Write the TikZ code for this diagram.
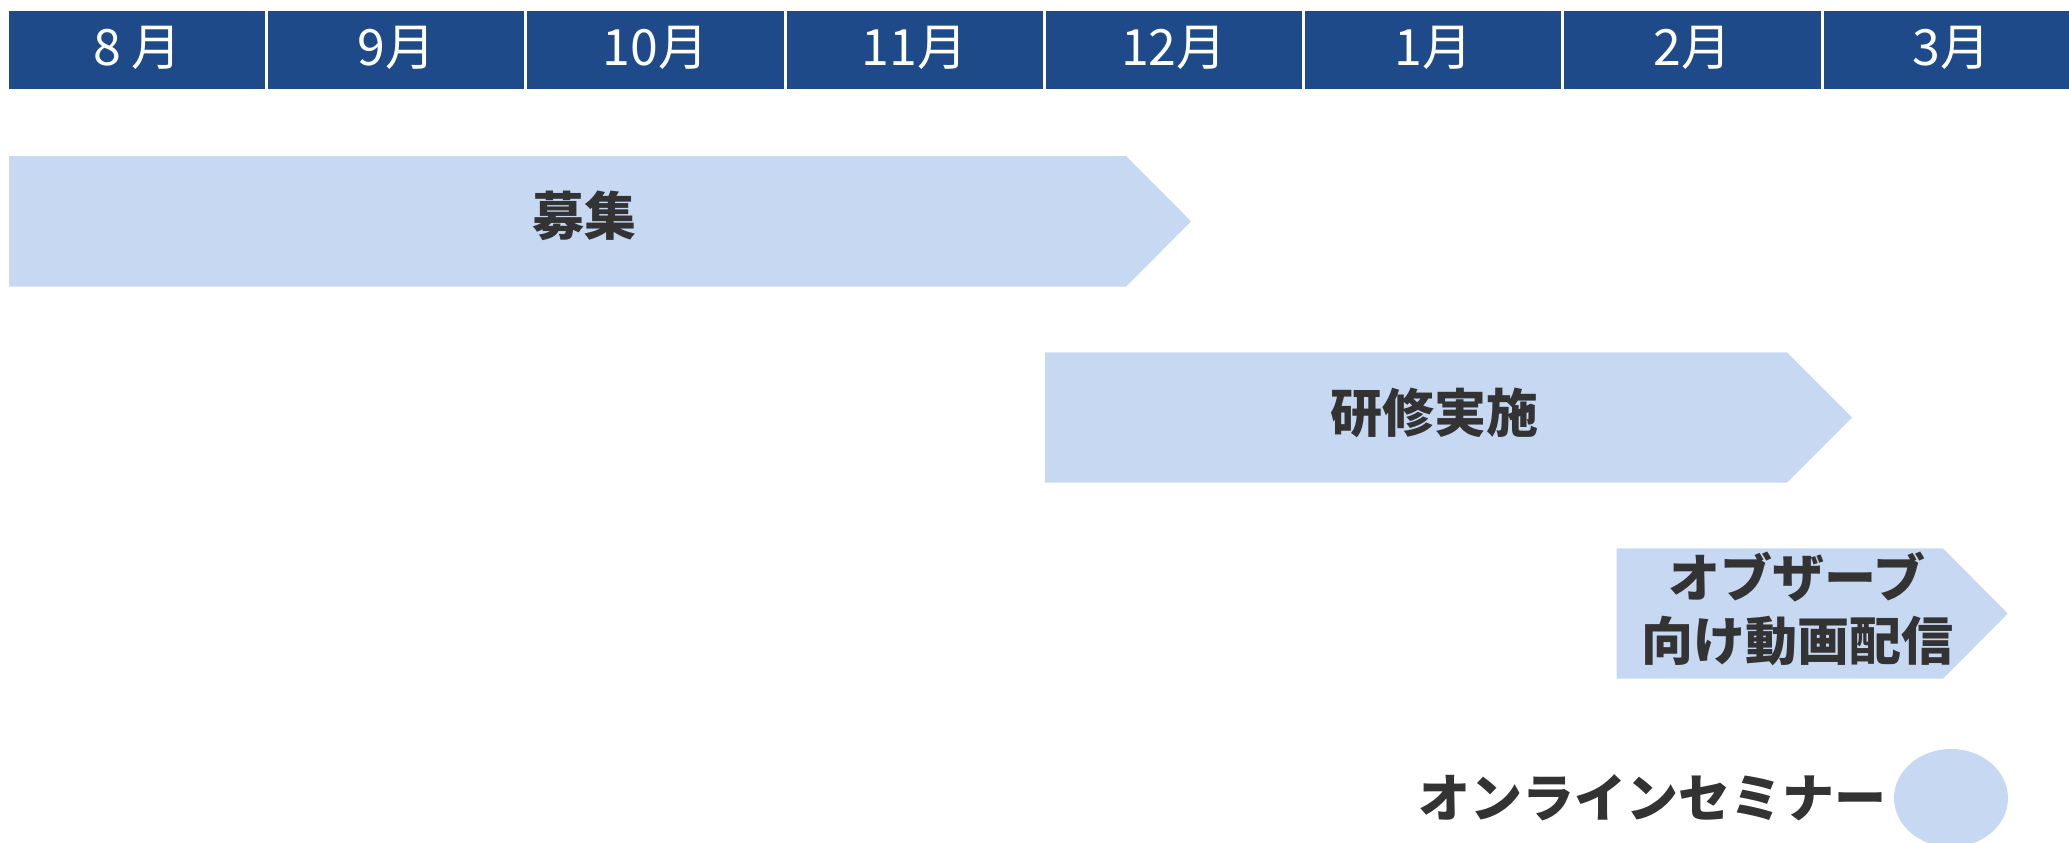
\documentclass[tikz,border=0pt]{standalone}
\usepackage{fontspec}
\setmainfont{Noto Sans CJK JP}
\usetikzlibrary{calc}
\definecolor{MonthBlue}{HTML}{1F4A89}
\definecolor{BarBlue}{HTML}{C7D9F2}
\definecolor{LabelGray}{HTML}{333333}
\tikzset{
    month/.style = {anchor=center, inner sep=0pt, text=white,
        font=\fontsize{50}{50}\selectfont},
    sep/.style = {draw=white, line width=3pt},
    barlabel/.style = {anchor=center, inner sep=0pt, text=LabelGray, align=center,
        font=\fontsize{52}{63}\selectfont\bfseries}
}
\begin{document}
\begin{tikzpicture}[x=1pt,y=-1pt]
            \clip (0,0) rectangle (2069,843);
            \fill[white] (0,0) rectangle (2069,843);
            % month header
            \fill[color=MonthBlue] (9,11) rectangle (2090,89.3);
                \draw[sep] (266.5,11) -- (266.5,89.3);
                \draw[sep] (525.8,11) -- (525.8,89.3);
                \draw[sep] (785.0,11) -- (785.0,89.3);
                \draw[sep] (1044.3,11) -- (1044.3,89.3);
                \draw[sep] (1303.5,11) -- (1303.5,89.3);
                \draw[sep] (1562.8,11) -- (1562.8,89.3);
                \draw[sep] (1822.0,11) -- (1822.0,89.3);
                \node [month] (aug) at (137.5,48) {8 月};
                \node [month] (sep) at (396.2,48) {9月};
                \node [month] (oct) at (655.4,48) {10月};
                \node [month] (nov) at (914.7,48) {11月};
                \node [month] (dec) at (1173.9,48) {12月};
                \node [month] (jan) at (1433.2,48) {1月};
                \node [month] (feb) at (1692.4,48) {2月};
                \node [month] (mar) at (1951.7,48) {3月};
            % schedule bars
            \fill[color=BarBlue] (9,156) -- (1126,156) -- (1191,221.3) -- (1126,286.7) -- (9,286.7) -- cycle;
            \fill[color=BarBlue] (1045,352.3) -- (1787,352.3) -- (1852,417.5) -- (1787,482.7) -- (1045,482.7) -- cycle;
            \fill[color=BarBlue] (1616.7,548.3) -- (1943,548.3) -- (2007.7,613.5) -- (1943,678.7) -- (1616.7,678.7) -- cycle;
            \fill[color=BarBlue] (1951,798) ellipse [x radius=57, y radius=49];
                \node [barlabel] (recruit) at (584.5,216) {募集};
                \node [barlabel] (training) at (1434,413) {研修実施};
                \node [barlabel] (video) at (1797,608.5) {オブザーブ\\向け動画配信};
                \node [barlabel] (seminar) at (1652,798) {オンラインセミナー};
\end{tikzpicture}
\end{document}
